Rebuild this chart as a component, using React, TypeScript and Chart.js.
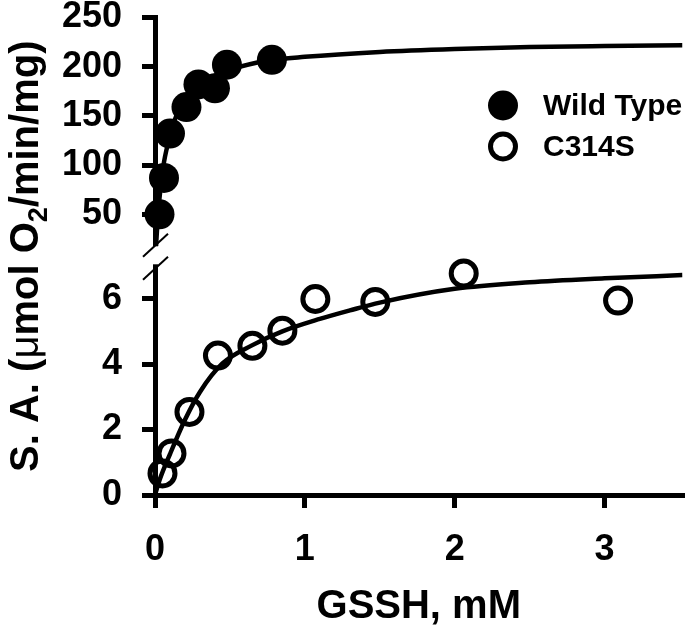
import { useEffect, useRef } from 'react';
import { Chart, registerables } from 'chart.js';

Chart.register(...registerables);

const FONT = "'Liberation Sans', Arial, Helvetica, sans-serif";

// Axis domains and tick labels
const X_MIN = 0;
const X_MAX = 3.52;
const X_TICKS = [0, 1, 2, 3];
const UPPER_MIN = 17.5;
const UPPER_MAX = 250;
const UPPER_TICKS = [50, 100, 150, 200, 250];
const LOWER_MIN = 0;
const LOWER_MAX = 7.6;
const LOWER_AXIS_TOP = 7.05;
const LOWER_TICKS = [0, 2, 4, 6];

// Wild Type measurements
const WT_X = [0.03, 0.06, 0.1, 0.21, 0.29, 0.4, 0.48, 0.78];
const WT_Y = [50, 87, 132, 159, 182, 178, 202, 207];
// Wild Type fitted curve
const WT_FIT_X = [0, 0.02, 0.04, 0.06, 0.08, 0.1, 0.15, 0.2, 0.3, 0.4, 0.5, 0.75, 1, 1.5, 2, 2.5, 3, 3.52];
const WT_FIT_Y = [0, 49, 81, 103, 118, 131, 153, 166, 182, 191, 197, 206, 210, 215, 218, 220, 221, 221.7];

// C314S measurements
const C314S_X = [0.05, 0.11, 0.23, 0.42, 0.65, 0.85, 1.07, 1.47, 2.06, 3.09];
const C314S_Y = [0.66, 1.27, 2.54, 4.26, 4.56, 5.02, 5.99, 5.9, 6.77, 5.94];
// C314S fitted curve
const C314S_FIT_X = [0, 0.03, 0.1, 0.2, 0.3, 0.45, 0.65, 0.85, 1.1, 1.3, 1.5, 2, 2.5, 3, 3.52];
const C314S_FIT_Y = [0, 0.45, 1.25, 2.3, 3.15, 4.02, 4.58, 5.0, 5.38, 5.64, 5.88, 6.3, 6.5, 6.62, 6.72];

const LEGEND_LABELS = ['Wild Type', 'C314S'];
const X_TITLE = 'GSSH, mM';

const pts = (xs: number[], ys: number[]) => xs.map((x, i) => ({ x, y: ys[i] }));

const overlayPlugin = {
  id: 'breakLegendTitle',
  afterDraw(chart: any) {
    const ctx = chart.ctx as CanvasRenderingContext2D;
    const area = chart.chartArea;
    const yTop = chart.scales.yTop;
    const yBot = chart.scales.yBot;
    const ax = area.left + 0.5;
    const gapTop = yTop.bottom;
    const gapBot = yBot.getPixelForValue(LOWER_AXIS_TOP);

    ctx.save();
    // axis break
    ctx.fillStyle = '#fff';
    ctx.fillRect(ax - 6, gapTop, 12, gapBot - gapTop);
    ctx.strokeStyle = '#000';
    ctx.lineWidth = 2;
    const slash = (cx: number, cy: number) => {
      ctx.beginPath();
      ctx.moveTo(cx - 12.5, cy + 11.5);
      ctx.lineTo(cx + 12.5, cy - 11.5);
      ctx.stroke();
    };
    slash(ax, gapTop - 1);
    slash(ax, gapBot + 4);

    // legend
    const lx = area.left + 348;
    const ly1 = area.top + 88;
    const ly2 = ly1 + 41;
    ctx.fillStyle = '#000';
    ctx.beginPath();
    ctx.arc(lx, ly1, 15, 0, Math.PI * 2);
    ctx.fill();
    ctx.lineWidth = 5;
    ctx.beginPath();
    ctx.arc(lx, ly2, 12.5, 0, Math.PI * 2);
    ctx.stroke();
    ctx.font = `bold 30px ${FONT}`;
    ctx.textBaseline = 'middle';
    ctx.textAlign = 'left';
    ctx.fillText(LEGEND_LABELS[0], lx + 40, ly1 + 1);
    ctx.fillText(LEGEND_LABELS[1], lx + 40, ly2 + 1);

    // y axis title (rotated, with subscript)
    const parts = [
      { t: 'S. A. (', f: `bold 40px ${FONT}`, dy: 0 },
      { t: 'μ', f: `40px ${FONT}`, dy: 0 },
      { t: 'mol O', f: `bold 40px ${FONT}`, dy: 0 },
      { t: '2', f: `bold 27px ${FONT}`, dy: 9 },
      { t: '/min/mg)', f: `bold 40px ${FONT}`, dy: 0 },
    ];
    let total = 0;
    const widths = parts.map((p) => {
      ctx.font = p.f;
      const w = ctx.measureText(p.t).width;
      total += w;
      return w;
    });
    ctx.translate(38, (area.top + area.bottom) / 2);
    ctx.rotate(-Math.PI / 2);
    ctx.textBaseline = 'alphabetic';
    let x = -total / 2;
    parts.forEach((p, i) => {
      ctx.font = p.f;
      ctx.fillText(p.t, x, p.dy);
      x += widths[i];
    });
    ctx.restore();
  },
};

const axisStyle = {
  border: { display: true, width: 5, color: '#000' },
  grid: {
    display: true,
    drawOnChartArea: false,
    drawTicks: true,
    tickLength: 13,
    tickWidth: 5,
    tickColor: '#000',
    lineWidth: 5,
    color: '#000',
  },
  ticks: {
    font: { family: FONT, size: 36, weight: 'bold' as const },
    color: '#000',
    padding: 20,
    autoSkip: false,
    maxRotation: 0,
  },
};

export default function App() {
  const ref = useRef<HTMLCanvasElement | null>(null);

  useEffect(() => {
    if (!ref.current) return;
    const chart = new Chart(ref.current, {
      type: 'scatter',
      data: {
        datasets: [
          {
            label: 'Wild Type fit',
            data: pts(WT_FIT_X, WT_FIT_Y),
            xAxisID: 'x',
            yAxisID: 'yTop',
            showLine: true,
            borderColor: '#000',
            borderWidth: 4.5,
            pointRadius: 0,
            cubicInterpolationMode: 'monotone',
            fill: false,
          },
          {
            label: 'C314S fit',
            data: pts(C314S_FIT_X, C314S_FIT_Y),
            xAxisID: 'x',
            yAxisID: 'yBot',
            showLine: true,
            borderColor: '#000',
            borderWidth: 4.5,
            pointRadius: 0,
            cubicInterpolationMode: 'monotone',
            fill: false,
          },
          {
            label: LEGEND_LABELS[0],
            data: pts(WT_X, WT_Y),
            xAxisID: 'x',
            yAxisID: 'yTop',
            pointRadius: 15,
            pointBackgroundColor: '#000',
            pointBorderColor: '#000',
            pointBorderWidth: 0,
            clip: false,
          },
          {
            label: LEGEND_LABELS[1],
            data: pts(C314S_X, C314S_Y),
            xAxisID: 'x',
            yAxisID: 'yBot',
            pointRadius: 12.5,
            pointBackgroundColor: 'rgba(0,0,0,0)',
            pointBorderColor: '#000',
            pointBorderWidth: 5,
            clip: false,
          },
        ],
      } as any,
      options: {
        animation: false,
        responsive: false,
        devicePixelRatio: 1,
        layout: { padding: { top: 15, left: 0, right: 0, bottom: 0 } },
        plugins: { legend: { display: false }, tooltip: { enabled: false }, title: { display: false } },
        scales: {
          x: {
            type: 'linear',
            position: 'bottom',
            min: X_MIN,
            max: X_MAX,
            ...axisStyle,
            afterBuildTicks: (s: any) => {
              s.ticks = X_TICKS.map((v) => ({ value: v }));
            },
            afterFit: (s: any) => {
              s.height = 133;
              s.paddingLeft = 0;
              s.paddingRight = 0;
            },
            title: {
              display: true,
              text: X_TITLE,
              color: '#000',
              font: { family: FONT, size: 40, weight: 'bold', lineHeight: 1 },
              padding: { top: 0, bottom: 1 },
            },
          },
          yTop: {
            type: 'linear',
            position: 'left',
            stack: 'y',
            stackWeight: 230,
            weight: 1,
            min: UPPER_MIN,
            max: UPPER_MAX,
            ...axisStyle,
            afterBuildTicks: (s: any) => {
              s.ticks = UPPER_TICKS.map((v) => ({ value: v }));
            },
            afterFit: (s: any) => {
              s.width = 155;
              s.paddingTop = 0;
              s.paddingBottom = 0;
            },
          },
          yBot: {
            type: 'linear',
            position: 'left',
            stack: 'y',
            stackWeight: 250,
            weight: 0,
            min: LOWER_MIN,
            max: LOWER_MAX,
            ...axisStyle,
            afterBuildTicks: (s: any) => {
              s.ticks = LOWER_TICKS.map((v) => ({ value: v }));
            },
            afterFit: (s: any) => {
              s.width = 155;
              s.paddingTop = 0;
              s.paddingBottom = 0;
            },
          },
        },
      } as any,
      plugins: [overlayPlugin],
    });
    return () => chart.destroy();
  }, []);

  return (
    <div style={{ position: 'fixed', left: 0, top: 0, width: 700, height: 628, background: '#fff' }}>
      <canvas ref={ref} width={700} height={628} style={{ display: 'block', width: 700, height: 628 }} />
    </div>
  );
}
